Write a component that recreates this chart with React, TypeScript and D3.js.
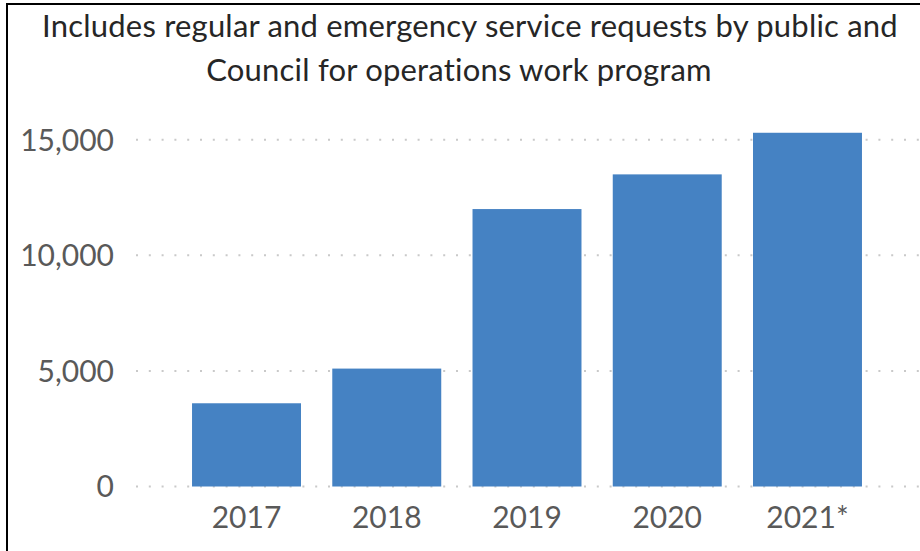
import { useEffect, useRef } from "react"
import * as d3 from "d3"

const years = ["2017", "2018", "2019", "2020", "2021*"]
const requests = [3600, 5100, 12000, 13500, 15300]
const yTicks = [0, 5000, 10000, 15000]
const titleLines = [
  "Includes regular and emergency service requests by public and",
  "Council for operations work program",
]

const W = 920
const H = 551

export default function App() {
  const svgRef = useRef<SVGSVGElement>(null)

  useEffect(() => {
    if (!svgRef.current) return
    const svg = d3.select(svgRef.current)
    svg.selectAll("*").remove()

    const font = "Lato, Calibri, 'Open Sans', sans-serif"

    const x = d3.scaleBand<string>()
      .domain(years)
      .range([176.4, 877.6])
      .paddingInner(0.223)
      .paddingOuter(0.1115)

    const y = d3.scaleLinear()
      .domain([0, 15000])
      .range([486.5, 139.7])

    // gridlines (dotted)
    svg.append("g")
      .selectAll("line")
      .data(yTicks)
      .enter()
      .append("line")
      .attr("x1", 136)
      .attr("x2", W)
      .attr("y1", (d) => y(d))
      .attr("y2", (d) => y(d))
      .attr("stroke", "#c9c9c9")
      .attr("stroke-width", 2)
      .attr("stroke-dasharray", "2 10.8")

    // bars
    svg.append("g")
      .selectAll("rect")
      .data(requests)
      .enter()
      .append("rect")
      .attr("x", (_, i) => x(years[i]) ?? 0)
      .attr("width", x.bandwidth())
      .attr("y", (d) => y(d))
      .attr("height", (d) => y(0) - y(d))
      .attr("fill", "#4582c3")

    // y tick labels
    const fmt = d3.format(",")
    svg.append("g")
      .selectAll("text")
      .data(yTicks)
      .enter()
      .append("text")
      .attr("x", 114)
      .attr("y", (d) => y(d))
      .attr("dy", "0.36em")
      .attr("text-anchor", "end")
      .attr("font-family", font)
      .attr("font-size", 30)
      .attr("fill", "#595959")
      .text((d) => fmt(d))

    // x labels
    svg.append("g")
      .selectAll("text")
      .data(years)
      .enter()
      .append("text")
      .attr("x", (d) => (x(d) ?? 0) + x.bandwidth() / 2)
      .attr("y", 528)
      .attr("text-anchor", "middle")
      .attr("font-family", font)
      .attr("font-size", 30)
      .attr("fill", "#595959")
      .text((d) => d)

    // title
    const titleX = [470, 459]
    const titleY = [37, 81]
    svg.append("g")
      .selectAll("text")
      .data(titleLines)
      .enter()
      .append("text")
      .attr("x", (_, i) => titleX[i])
      .attr("y", (_, i) => titleY[i])
      .attr("text-anchor", "middle")
      .attr("font-family", font)
      .attr("font-size", 31)
      .attr("letter-spacing", 0.2)
      .attr("fill", "#262626")
      .text((d) => d)

    // chart border (left and top visible)
    svg.append("path")
      .attr("d", `M7,${H} V4 H${W}`)
      .attr("fill", "none")
      .attr("stroke", "#000")
      .attr("stroke-width", 2)
  }, [])

  return (
    <svg
      ref={svgRef}
      width={W}
      height={H}
      style={{ position: "absolute", left: 0, top: 0, background: "#fff" }}
    />
  )
}
